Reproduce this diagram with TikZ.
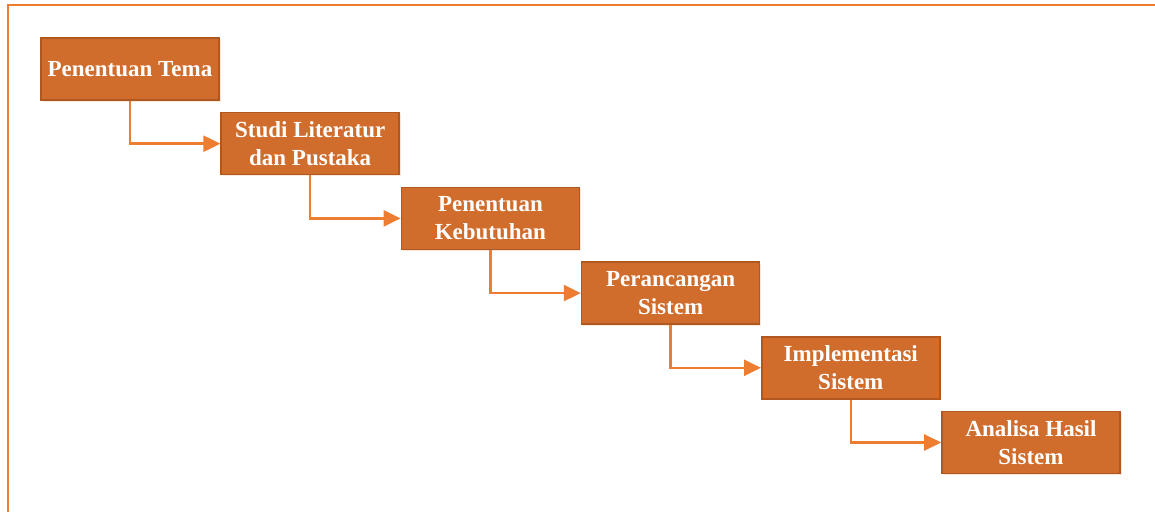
\documentclass[tikz,border=0pt]{standalone}
\usepackage{fontspec}
\setmainfont{Liberation Serif}
\usetikzlibrary{arrows.meta,shadows}

\definecolor{stagefill}{RGB}{208,108,44}
\definecolor{stageline}{RGB}{176,88,32}
\definecolor{flowline}{RGB}{237,125,49}

\tikzset{
  stage/.style={draw=stageline,line width=0.8pt,fill=stagefill,text=white,
    minimum width=89pt,minimum height=31pt,inner sep=2pt,align=center,
    font={\fontsize{11.5pt}{14pt}\selectfont\bfseries},
    drop shadow={shadow xshift=0.8pt,shadow yshift=-0.8pt,opacity=0.18,fill=flowline}},
  flow/.style={draw=flowline,line width=1.2pt,-{Triangle[length=8.5pt,width=8pt]}}
}

\begin{document}
\begin{tikzpicture}[x=0.5pt,y=-0.5pt]
\useasboundingbox (0,0) rectangle (1155,512);
% frame
\draw[flowline,line width=0.8pt] (8,512) -- (8,5) -- (1155,5);

\foreach \i/\txt in {1/{Penentuan Tema},2/{Studi Literatur\\dan Pustaka},
    3/{Penentuan\\Kebutuhan},4/{Perancangan\\Sistem},
    5/{Implementasi\\Sistem},6/{Analisa Hasil\\Sistem}}
  \node[stage] (s\i) at ({130+180.2*(\i-1)},{69+74.7*(\i-1)}) {\txt};

\foreach \i [evaluate=\i as \j using int(\i+1)] in {1,...,5}
  \draw[flow] (s\i.south) |- (s\j.west);
\end{tikzpicture}
\end{document}
